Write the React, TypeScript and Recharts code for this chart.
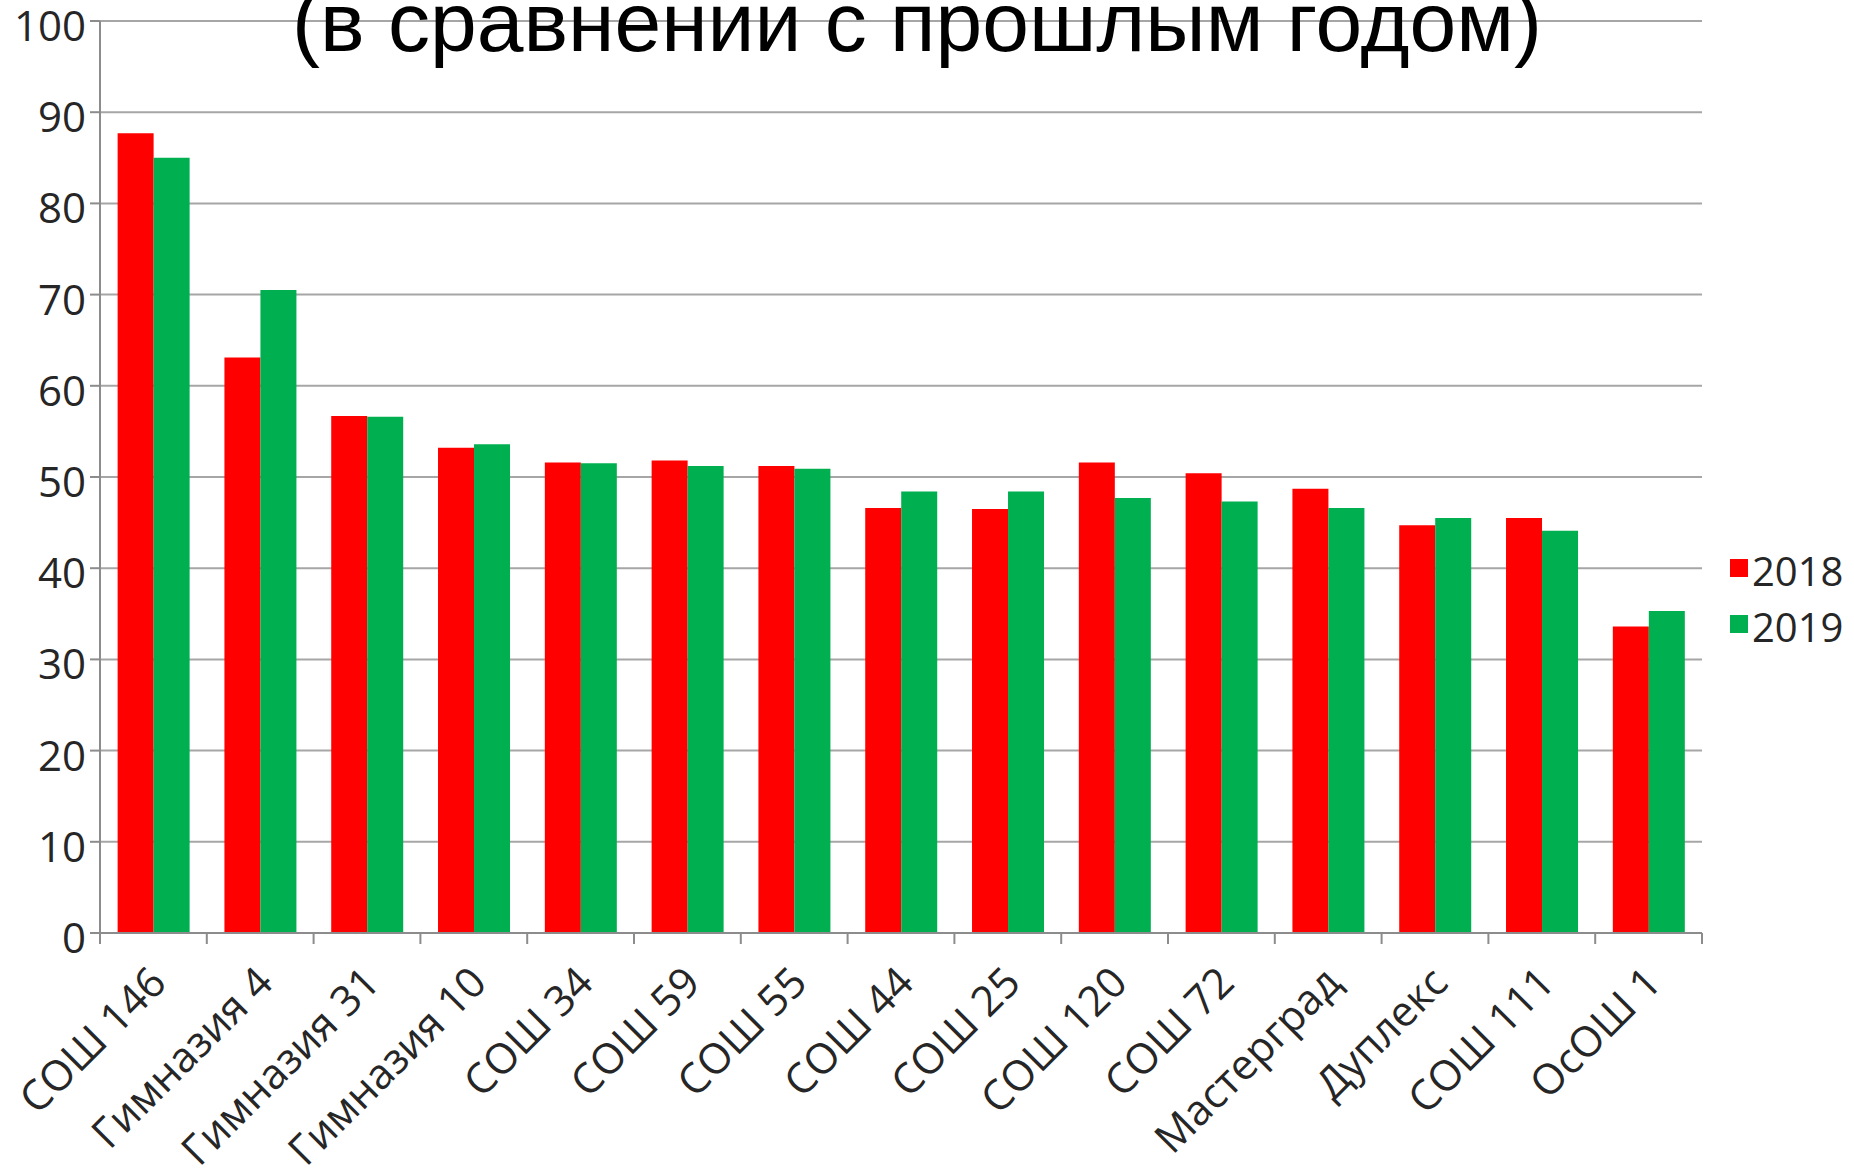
import React from 'react';
import { BarChart, Bar, XAxis, YAxis, CartesianGrid, Legend } from 'recharts';

const categories = [
  'СОШ 146', 'Гимназия 4', 'Гимназия 31', 'Гимназия 10', 'СОШ 34', 'СОШ 59', 'СОШ 55',
  'СОШ 44', 'СОШ 25', 'СОШ 120', 'СОШ 72', 'Мастерград', 'Дуплекс', 'СОШ 111', 'ОсОШ 1',
];
const values2018 = [87.7, 63.1, 56.7, 53.2, 51.6, 51.8, 51.2, 46.6, 46.5, 51.6, 50.4, 48.7, 44.7, 45.5, 33.6];
const values2019 = [85.0, 70.5, 56.6, 53.6, 51.5, 51.2, 50.9, 48.4, 48.4, 47.7, 47.3, 46.6, 45.5, 44.1, 35.3];
const seriesNames = ['2018', '2019'];
const yTicks = [0, 10, 20, 30, 40, 50, 60, 70, 80, 90, 100];
const titleText = '(в сравнении с прошлым годом)';

const data = categories.map((name, i) => ({ name, a: values2018[i], b: values2019[i] }));

const FONT = '"Open Sans", "Noto Sans", sans-serif';
const AXIS = '#8c8c8c';
const TXT = '#262626';

const XTick = (props: any) => {
  const { x, y, payload, index, visibleTicksCount } = props;
  const off = payload && typeof payload.offset === 'number' ? payload.offset : 53.4;
  const last = index === visibleTicksCount - 1;
  const ax = x + 15;
  const ay = y + 52;
  return (
    <g>
      <line x1={x - off} y1={y} x2={x - off} y2={y + 11} stroke={AXIS} strokeWidth={2} />
      {last && <line x1={x + off} y1={y} x2={x + off} y2={y + 11} stroke={AXIS} strokeWidth={2} />}
      <text
        x={ax}
        y={ay}
        textAnchor="end"
        transform={`rotate(-45, ${ax}, ${ay})`}
        fontSize={42}
        fontFamily={FONT}
        fill={TXT}
      >
        {payload.value}
      </text>
    </g>
  );
};

const YTick = (props: any) => {
  const { x, y, payload } = props;
  return (
    <text x={x} y={y} dy={20} textAnchor="end" fontSize={42} fontFamily={FONT} fill={TXT}>
      {payload.value}
    </text>
  );
};

const LegendContent = (props: any) => {
  const items = props.payload || [];
  return (
    <div style={{ fontFamily: FONT, fontSize: 40, color: TXT }}>
      {items.map((p: any) => (
        <div key={p.value} style={{ display: 'flex', alignItems: 'center', height: 56 }}>
          <span style={{ display: 'inline-block', width: 18, height: 18, background: p.color, marginRight: 4, marginTop: -6 }} />
          <span style={{ lineHeight: '56px' }}>{p.value}</span>
        </div>
      ))}
    </div>
  );
};

export default function App() {
  return (
    <div style={{ position: 'absolute', left: 0, top: 0, width: 1854, height: 1169, background: '#fff', overflow: 'hidden' }}>
      <BarChart
        width={1854}
        height={1169}
        data={data}
        margin={{ top: 21, right: 152, bottom: 0, left: 0 }}
        barCategoryGap="16.5%"
        barGap={0}
      >
        <CartesianGrid vertical={false} stroke="#a6a6a6" strokeWidth={2} />
        <XAxis
          dataKey="name"
          height={236}
          interval={0}
          tickSize={0}
          tickMargin={0}
          tickLine={false}
          axisLine={{ stroke: AXIS, strokeWidth: 2 }}
          tick={<XTick />}
        />
        <YAxis
          width={100}
          domain={[0, 100]}
          ticks={yTicks}
          interval={0}
          tickSize={10}
          tickMargin={4}
          tickLine={{ stroke: AXIS, strokeWidth: 2 }}
          axisLine={{ stroke: AXIS, strokeWidth: 2 }}
          tick={<YTick />}
        />
        <Legend
          layout="vertical"
          align="center"
          verticalAlign="middle"
          wrapperStyle={{ position: 'absolute', left: 1730, top: 543, width: 124 }}
          content={<LegendContent />}
        />
        <Bar dataKey="a" name={seriesNames[0]} fill="#ff0000" isAnimationActive={false} />
        <Bar dataKey="b" name={seriesNames[1]} fill="#00b050" isAnimationActive={false} />
      </BarChart>
      <svg width={1854} height={120} style={{ position: 'absolute', left: 0, top: 0, pointerEvents: 'none' }}>
        <text x={917} y={51} textAnchor="middle" fontSize={84} fontFamily='"Liberation Sans", Arial, sans-serif' fill="#000">
          {titleText}
        </text>
      </svg>
    </div>
  );
}
